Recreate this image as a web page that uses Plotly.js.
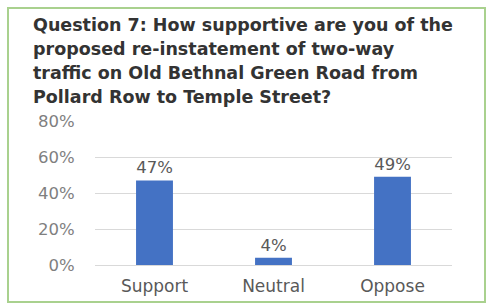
<!DOCTYPE html>
<html><head><meta charset="utf-8">
<script src="https://cdn.plot.ly/plotly-3.0.1.min.js"></script>
<style>html,body{margin:0;padding:0;background:#fff}#c{width:494px;height:304px}</style>
</head><body><div id="c"></div>
<script>
const categories = ["Support", "Neutral", "Oppose"];
const values = [47, 4, 49];
const labels = ["47%", "4%", "49%"];
const titleLines = [
  "Question 7: How supportive are you of the",
  "proposed re-instatement of two-way",
  "traffic on Old Bethnal Green Road from",
  "Pollard Row to Temple Street?"
];

const W = 494, H = 304, L = 95, R = 42, T = 121, B = 39;
const pw = W - L - R, ph = H - T - B;
const px = x => (x - L) / pw;
const py = y => (H - B - y) / ph;
const FONT = 'DejaVu Sans';

const annotations = titleLines.map((t, i) => ({
  text: t, xref: 'paper', yref: 'paper', x: px(31), y: py(25 + i * 24),
  xanchor: 'left', yanchor: 'middle', showarrow: false,
  font: {family: FONT, size: 17.5, color: '#333333', weight: 'bold'}
}));

Plotly.newPlot('c', [{
  type: 'bar', x: categories, y: values, text: labels,
  textposition: 'outside', cliponaxis: false,
  textfont: {family: FONT, size: 16.5, color: '#595959'},
  marker: {color: '#4472C4'}, hoverinfo: 'none'
}], {
  width: W, height: H,
  margin: {l: L, r: R, t: T, b: B},
  paper_bgcolor: '#fff', plot_bgcolor: '#fff',
  bargap: 0.69, showlegend: false,
  xaxis: {tickfont: {family: FONT, size: 17, color: '#595959'}, showline: false,
          ticks: 'outside', tickcolor: 'rgba(0,0,0,0)', ticklen: 6, fixedrange: true},
  yaxis: {range: [0, 80], dtick: 20, ticksuffix: '%', gridcolor: '#d9d9d9', gridwidth: 1,
          zeroline: true, zerolinecolor: '#d9d9d9', showline: false,
          ticks: 'outside', tickcolor: 'rgba(0,0,0,0)', ticklen: 16,
          tickfont: {family: FONT, size: 16.5, color: '#7f7f7f'}},
  annotations: annotations,
  shapes: [{type: 'rect', xref: 'paper', yref: 'paper', x0: px(8), x1: px(485), y0: py(8), y1: py(302),
            line: {color: '#a9d18e', width: 2}, fillcolor: 'rgba(0,0,0,0)', layer: 'below'}]
}, {displayModeBar: false, staticPlot: true});
</script></body></html>
